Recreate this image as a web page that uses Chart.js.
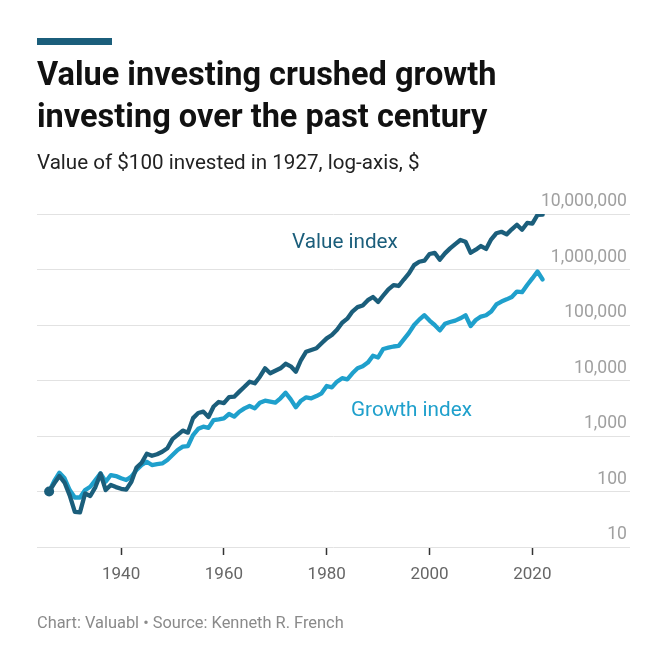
<!DOCTYPE html>
<html>
<head>
<meta charset="utf-8">
<script src="https://cdn.jsdelivr.net/npm/chart.js@4/dist/chart.umd.min.js"></script>
<style>
  html, body { margin: 0; padding: 0; background: #ffffff; }
  body { width: 670px; height: 670px; position: relative; overflow: hidden; font-family: Roboto, "Noto Sans", sans-serif; }
  #chart { position: absolute; left: 0; top: 0; }
  .bar { position: absolute; left: 37px; top: 38px; width: 75px; height: 7px; background: #1b5e7b; }
  .title { position: absolute; left: 37px; top: 52.9px; font-size: 32.5px; line-height: 42px; font-weight: 700; color: #111111; white-space: nowrap; }
  .subtitle { position: absolute; left: 37px; top: 149.5px; font-size: 20.6px; line-height: 24px; color: #222222; white-space: nowrap; }
  .footer { position: absolute; left: 37px; top: 612.5px; font-size: 16.4px; line-height: 20px; color: #8a8a8a; white-space: nowrap; }
  .lbl { position: absolute; font-size: 20.7px; line-height: 22px; white-space: nowrap; }
  .lv { left: 292px; top: 230.3px; color: #1b5e7b; }
  .lg { left: 351px; top: 398px; color: #1fa0cc; }
</style>
</head>
<body>
<canvas id="chart" width="670" height="670"></canvas>
<div class="bar"></div>
<div class="title">Value investing crushed growth<br>investing over the past century</div>
<div class="subtitle">Value of $100 invested in 1927, log-axis, $</div>
<div class="lbl lv">Value index</div>
<div class="lbl lg">Growth index</div>
<div class="footer">Chart: Valuabl • Source: Kenneth R. French</div>
<script>
// ---- data ----
const firstYear = 1926;
const lastYear = 2022;
const years = Array.from({length: lastYear - firstYear + 1}, (_, i) => firstYear + i);

const valueIndex = [
  100, 140, 190, 145, 85, 43, 42, 92, 83, 120,          // 1926-1935
  210, 106, 131, 120, 112, 108, 150, 270, 330, 480,     // 1936-1945
  440, 470, 520, 600, 880, 1050, 1250, 1150, 2100, 2600,// 1946-1955
  2750, 2200, 3400, 4100, 3900, 5000, 5100, 6300, 7700, 9500, // 1956-1965
  8900, 11700, 16600, 13500, 15000, 16600, 20000, 18000, 14400, 23400, // 1966-1975
  33000, 35500, 38000, 46800, 57500, 66000, 82000, 110000, 130000, 175000, // 1976-1985
  210000, 225000, 280000, 320000, 260000, 340000, 440000, 525000, 505000, 660000, // 1986-1995
  850000, 1200000, 1380000, 1440000, 1900000, 2000000, 1500000, 1950000, 2400000, 2870000, // 1996-2005
  3400000, 3170000, 2000000, 2280000, 2650000, 2350000, 3500000, 4500000, 4780000, 4300000, // 2006-2015
  5300000, 6400000, 5200000, 6900000, 6700000, 9600000, 9800000 // 2016-2022
];

const growthIndex = [
  100, 155, 218, 173, 106, 78, 78, 106, 122, 161,        // 1926-1935
  212, 150, 198, 190, 173, 161, 185, 244, 300, 344,      // 1936-1945
  300, 312, 320, 370, 455, 560, 642, 660, 1042, 1350,    // 1946-1955
  1470, 1400, 1940, 2000, 2080, 2490, 2230, 2740, 3150, 3470, // 1956-1965
  3150, 3980, 4330, 4150, 3980, 4780, 6030, 4570, 3290, 4330, // 1966-1975
  4980, 4780, 5250, 5880, 7960, 7530, 9530, 11000, 10500, 13500, // 1976-1985
  16600, 18000, 21000, 28000, 26000, 37000, 39000, 41000, 42000, 55000, // 1986-1995
  72000, 100000, 125000, 150000, 120000, 100000, 80000, 105000, 113000, 120000, // 1996-2005
  132000, 150000, 96000, 123000, 142000, 150000, 175000, 235000, 265000, 290000, // 2006-2015
  320000, 400000, 390000, 525000, 690000, 920000, 660000 // 2016-2022
];

const xTicks = [1940, 1960, 1980, 2000, 2020];
const yTicks = [10, 100, 1000, 10000, 100000, 1000000, 10000000];

// ---- chart ----
const DARK = '#1b5e7b';
const LIGHT = '#1fa0cc';

const toPoints = arr => years.map((y, i) => ({x: y, y: arr[i]}));

new Chart(document.getElementById('chart'), {
  type: 'line',
  data: {
    datasets: [
      {
        label: 'Value index',
        data: toPoints(valueIndex),
        borderColor: DARK,
        backgroundColor: DARK,
        borderWidth: 4.3,
        tension: 0,
        borderJoinStyle: 'round',
        borderCapStyle: 'round',
        pointRadius: ctx => ctx.dataIndex === 0 ? 5 : 0,
        pointBorderWidth: 0,
        pointHoverRadius: 0
      },
      {
        label: 'Growth index',
        data: toPoints(growthIndex),
        borderColor: LIGHT,
        backgroundColor: LIGHT,
        borderWidth: 4.3,
        tension: 0,
        borderJoinStyle: 'round',
        borderCapStyle: 'round',
        pointRadius: 0,
        pointHoverRadius: 0
      }
    ]
  },
  options: {
    responsive: false,
    animation: false,
    devicePixelRatio: 1,
    layout: { padding: { left: 37, right: 40, top: 214, bottom: 83 } },
    plugins: { legend: { display: false }, tooltip: { enabled: false }, title: { display: false } },
    scales: {
      x: {
        type: 'linear',
        min: 1923.64,
        max: 2039,
        afterBuildTicks: s => { s.ticks = xTicks.map(v => ({value: v})); },
        afterFit: s => { s.height = 40; },
        border: { display: false },
        grid: { display: true, drawOnChartArea: false, drawTicks: true, tickLength: 8, tickColor: '#333333', tickWidth: 1.5 },
        ticks: {
          padding: 10,
          color: '#666666',
          font: { family: 'Roboto', size: 17 },
          maxRotation: 0,
          callback: v => String(v)
        }
      },
      y: {
        type: 'logarithmic',
        position: 'right',
        min: 10,
        max: 10000000,
        afterBuildTicks: s => { s.ticks = yTicks.map(v => ({value: v})); },
        afterFit: s => { s.width = 0; },
        border: { display: false },
        grid: { color: '#e2e2e2', lineWidth: 1, drawTicks: false },
        ticks: {
          mirror: true,
          padding: -3,
          labelOffset: -12,
          color: '#a0a0a0',
          font: { family: 'Roboto', size: 17.6 },
          callback: v => Number(v).toLocaleString('en-US')
        }
      }
    }
  }
});
</script>
</body>
</html>
